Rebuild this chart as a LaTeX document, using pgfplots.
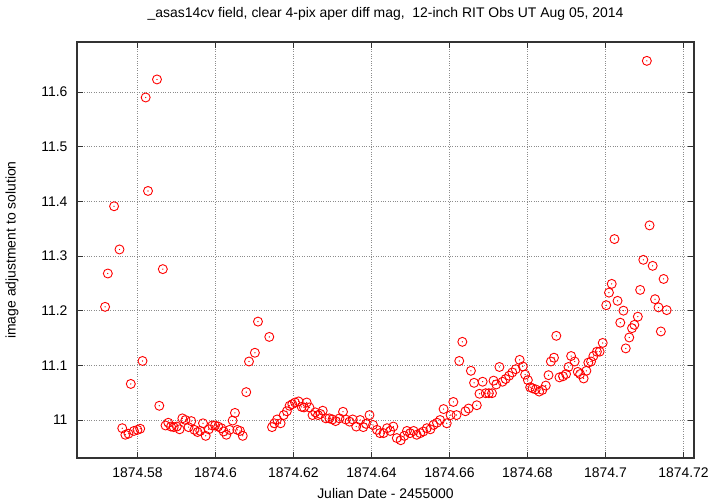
\documentclass[border=0pt]{standalone}
\usepackage{pgfplots}
\pgfplotsset{compat=1.18}
\usepackage{pgfplotstable}
\usepackage{fontspec}
\setmainfont{Liberation Sans}

% Julian date - 2455000, magnitude adjustment
\pgfplotstableread{
jd mag
1874.5717 11.207
1874.5724 11.268
1874.5740 11.391
1874.5754 11.312
1874.5761 10.985
1874.5769 10.973
1874.5777 10.975
1874.5783 11.066
1874.5791 10.980
1874.5800 10.982
1874.5807 10.984
1874.5813 11.108
1874.5821 11.590
1874.5827 11.419
1874.5850 11.623
1874.5856 11.026
1874.5865 11.276
1874.5872 10.990
1874.5879 10.995
1874.5886 10.988
1874.5893 10.987
1874.5901 10.988
1874.5908 10.983
1874.5915 11.003
1874.5923 11.000
1874.5931 10.987
1874.5938 10.998
1874.5946 10.982
1874.5954 10.978
1874.5961 10.980
1874.5968 10.994
1874.5975 10.971
1874.5983 10.983
1874.5992 10.990
1874.5999 10.990
1874.6007 10.988
1874.6015 10.985
1874.6021 10.979
1874.6028 10.973
1874.6036 10.982
1874.6044 10.999
1874.6050 11.013
1874.6056 10.982
1874.6063 10.980
1874.6070 10.971
1874.6079 11.051
1874.6086 11.107
1874.6101 11.123
1874.6109 11.180
1874.6138 11.152
1874.6145 10.987
1874.6151 10.994
1874.6158 11.001
1874.6167 10.994
1874.6175 11.009
1874.6183 11.016
1874.6190 11.026
1874.6197 11.029
1874.6204 11.032
1874.6213 11.034
1874.6221 11.024
1874.6227 11.023
1874.6234 11.032
1874.6241 11.023
1874.6249 11.009
1874.6256 11.014
1874.6263 11.009
1874.6269 11.011
1874.6275 11.017
1874.6283 11.003
1874.6292 11.003
1874.6300 11.001
1874.6308 10.998
1874.6318 11.003
1874.6327 11.015
1874.6334 11.001
1874.6344 10.997
1874.6352 11.001
1874.6361 10.988
1874.6371 11.000
1874.6379 10.987
1874.6386 10.993
1874.6395 11.009
1874.6404 10.991
1874.6414 10.982
1874.6422 10.976
1874.6431 10.976
1874.6440 10.985
1874.6448 10.980
1874.6456 10.988
1874.6465 10.967
1874.6475 10.963
1874.6484 10.971
1874.6491 10.980
1874.6499 10.976
1874.6508 10.980
1874.6516 10.973
1874.6525 10.976
1874.6533 10.979
1874.6542 10.985
1874.6551 10.983
1874.6559 10.991
1874.6568 10.995
1874.6576 11.000
1874.6585 11.020
1874.6593 10.994
1874.6603 11.009
1874.6610 11.033
1874.6618 11.009
1874.6625 11.108
1874.6633 11.143
1874.6641 11.016
1874.6649 11.021
1874.6655 11.090
1874.6663 11.068
1874.6670 11.027
1874.6677 11.048
1874.6685 11.070
1874.6693 11.049
1874.6701 11.049
1874.6709 11.049
1874.6713 11.072
1874.6720 11.065
1874.6728 11.097
1874.6736 11.070
1874.6744 11.075
1874.6753 11.081
1874.6761 11.087
1874.6770 11.093
1874.6780 11.110
1874.6788 11.098
1874.6794 11.083
1874.6801 11.073
1874.6807 11.060
1874.6813 11.058
1874.6821 11.056
1874.6830 11.052
1874.6838 11.055
1874.6847 11.063
1874.6854 11.082
1874.6860 11.107
1874.6868 11.114
1874.6874 11.154
1874.6882 11.078
1874.6891 11.080
1874.6899 11.084
1874.6905 11.097
1874.6912 11.117
1874.6921 11.107
1874.6929 11.088
1874.6935 11.084
1874.6944 11.076
1874.6951 11.090
1874.6956 11.105
1874.6963 11.107
1874.6969 11.117
1874.6978 11.125
1874.6985 11.125
1874.6993 11.141
1874.7002 11.210
1874.7009 11.233
1874.7016 11.249
1874.7023 11.331
1874.7031 11.218
1874.7038 11.178
1874.7046 11.200
1874.7052 11.131
1874.7061 11.151
1874.7068 11.168
1874.7074 11.174
1874.7083 11.189
1874.7089 11.238
1874.7097 11.293
1874.7106 11.657
1874.7113 11.356
1874.7121 11.282
1874.7127 11.221
1874.7136 11.206
1874.7142 11.162
1874.7149 11.258
1874.7157 11.201
}\magdata

\begin{document}
\begin{tikzpicture}[x=1bp,y=1bp]
\useasboundingbox (0,0) rectangle (720,504);
\begin{axis}[
  at={(77bp,46bp)}, anchor=south west,
  scale only axis, width=617bp, height=416bp,
  xmin=1874.5645, xmax=1874.7227,
  ymin=10.9305, ymax=11.6915,
  xtick={1874.58,1874.6,1874.62,1874.64,1874.66,1874.68,1874.7,1874.72},
  xticklabels={1874.58,1874.6,1874.62,1874.64,1874.66,1874.68,1874.7,1874.72},
  ytick={11,11.1,11.2,11.3,11.4,11.5,11.6},
  yticklabels={11,11.1,11.2,11.3,11.4,11.5,11.6},
  tick align=inside, major tick length=6bp,
  xtick pos=both, ytick pos=both,
  grid=major,
  major grid style={black!45, dotted, line width=0.6pt},
  axis line style={black!80, line width=1.4pt},
  tick style={black!80, line width=0.9pt},
  ticklabel style={font=\fontsize{14}{16}\selectfont},
  xticklabel style={anchor=center, yshift=-15bp},
  yticklabel style={anchor=east, xshift=-6bp},
  every axis x label/.style={at={(axis description cs:0.5,0)}, anchor=center, yshift=-36bp, font=\fontsize{14}{16}\selectfont},
  every axis y label/.style={at={(axis description cs:0,0.5)}, xshift=-65bp, rotate=90, anchor=center, font=\fontsize{14}{16}\selectfont},
  title style={at={(axis description cs:0.5,1)}, anchor=center, yshift=22bp, font=\fontsize{14}{16}\selectfont},
  xlabel={Julian Date - 2455000},
  ylabel={image adjustment to solution},
  title={\_asas14cv field, clear 4-pix aper diff mag,\ \ 12-inch RIT Obs UT Aug 05, 2014},
]
\addplot[only marks, mark=o, mark size=4.5bp, red, mark options={line width=0.9pt}] table[x=jd, y=mag] {\magdata};
\addplot[only marks, mark=*, mark size=0.35bp, red] table[x=jd, y=mag] {\magdata};
\end{axis}
\end{tikzpicture}
\end{document}
